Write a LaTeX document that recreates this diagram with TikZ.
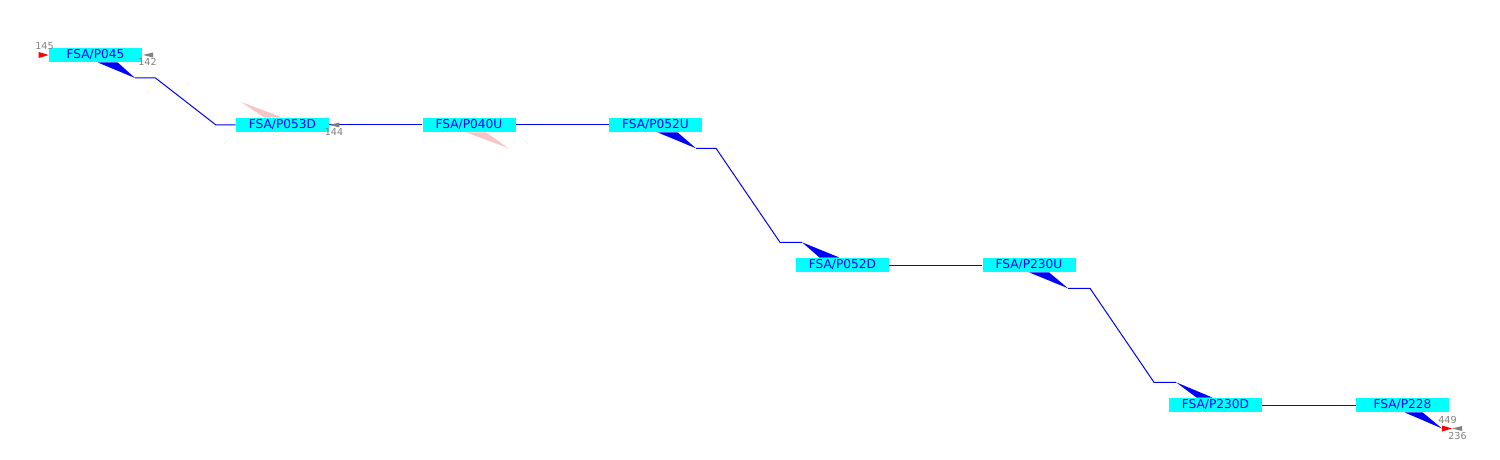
\documentclass[tikz,border=0pt]{standalone}
\usepackage{fontspec}
\setmainfont{DejaVu Sans}
\definecolor{boxcyan}{RGB}{0,255,255}
\definecolor{linkblue}{RGB}{0,0,255}
\definecolor{ghostpink}{RGB}{246,196,196}
\definecolor{numgray}{RGB}{128,128,128}
\definecolor{tipredc}{RGB}{255,0,0}
\begin{document}
\begin{tikzpicture}[x=0.5pt,y=-0.5pt,
  box/.style={fill=boxcyan, minimum width=46.5pt, minimum height=7pt, inner sep=0pt, text=linkblue, font=\fontsize{6.1pt}{7pt}\selectfont},
  link/.style={draw=linkblue, line width=0.5pt},
  wedge/.style={fill=linkblue},
  ghost/.style={fill=ghostpink},
  num/.style={text=numgray, inner sep=0pt, font=\fontsize{4.8pt}{5pt}\selectfont},
  tipred/.style={fill=tipredc},
  tipgray/.style={fill=numgray}]
\useasboundingbox (0,0) rectangle (1500,460);
% nodes
\node[box] (n045)  at (95.5,55)   {FSA/P045};
\node[box] (n053D) at (282.5,125) {FSA/P053D};
\node[box] (n040U) at (469,125)   {FSA/P040U};
\node[box] (n052U) at (655.5,125) {FSA/P052U};
\node[box] (n052D) at (842.5,265) {FSA/P052D};
\node[box] (n230U) at (1029,265)  {FSA/P230U};
\node[box] (n230D) at (1215.5,405){FSA/P230D};
\node[box] (n228)  at (1402.5,405){FSA/P228};
% bend points
\coordinate (a1) at (135,78);
\coordinate (a2) at (155.5,78);
\coordinate (a3) at (216,125);
\coordinate (c1) at (696,148.3);
\coordinate (c2) at (716,148.3);
\coordinate (c3) at (780,242.3);
\coordinate (c4) at (802,242.3);
\coordinate (d1) at (1068,288.3);
\coordinate (d2) at (1090,288.3);
\coordinate (d3) at (1154,382.3);
\coordinate (d4) at (1176,382.3);
\coordinate (e1) at (1442,428.5);
\coordinate (e2) at (1452,428.5);
\coordinate (g1) at (241,102);
\coordinate (g2) at (508,148);
% ghost wedges
\fill[ghost] (g1) -- ([xshift=14.5pt]n053D.north west) -- ([xshift=23.5pt]n053D.north west) -- cycle;
\fill[ghost] ([xshift=22pt]n040U.south west) -- ([xshift=32pt]n040U.south west) -- (g2) -- cycle;
% links
\draw[link] (a1) -- (a2) -- (a3) -- (n053D.west);
\draw[link] (n053D.east) -- (n040U.west);
\draw[link] (n040U.east) -- (n052U.west);
\draw[link] (c1) -- (c2) -- (c3) -- (c4);
\draw[link] (n052D.east) -- (n230U.west);
\draw[link] (d1) -- (d2) -- (d3) -- (d4);
\draw[link] (n230D.east) -- (n228.west);
% wedges
\fill[wedge] ([xshift=24.5pt]n045.south west) -- ([xshift=34.5pt]n045.south west) -- (a1) -- cycle;
\fill[wedge] ([xshift=24.5pt]n052U.south west) -- ([xshift=34.5pt]n052U.south west) -- (c1) -- cycle;
\fill[wedge] (c4) -- ([xshift=12pt]n052D.north west) -- ([xshift=22pt]n052D.north west) -- cycle;
\fill[wedge] ([xshift=23.5pt]n230U.south west) -- ([xshift=33.5pt]n230U.south west) -- (d1) -- cycle;
\fill[wedge] (d4) -- ([xshift=14pt]n230D.north west) -- ([xshift=22pt]n230D.north west) -- cycle;
\fill[wedge] ([xshift=24.5pt]n228.south west) -- ([xshift=33.5pt]n228.south west) -- (e1) -- cycle;
% arrow tips
\fill[tipred] (n045.west) -- ++(-10,-3) -- ++(0,6) -- cycle;
\fill[tipgray] ([xshift=0.3pt]n045.east) -- ++(10,-2.5) -- ++(0,5) -- cycle;
\fill[tipgray] (n053D.east) -- ++(10,-2.5) -- ++(0,5) -- cycle;
\fill[tipred] (e2) -- ++(-10,-3) -- ++(0,6) -- cycle;
\fill[tipgray] (e2) -- ++(10,-2.5) -- ++(0,5) -- cycle;
% labels
\node[num] (l145) at (44.5,46.3) {145};
\node[num] (l142) at (147.5,62.3) {142};
\node[num] (l144) at (334,132.3) {144};
\node[num] (l449) at (1447.5,419.7) {449};
\node[num] (l236) at (1457.5,435.7) {236};
\end{tikzpicture}
\end{document}
